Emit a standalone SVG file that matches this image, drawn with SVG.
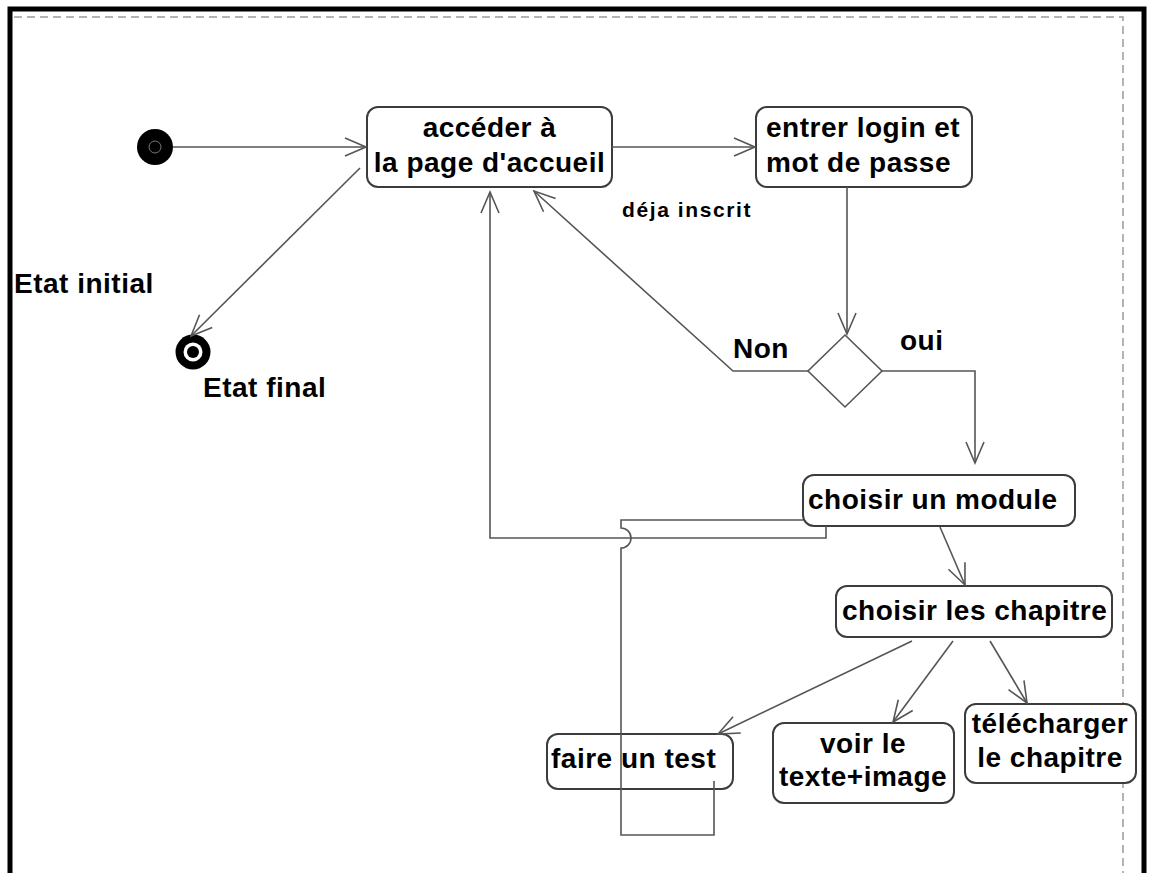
<svg xmlns="http://www.w3.org/2000/svg" width="1149" height="873" viewBox="0 0 1149 873">
  <style>
    .frame { fill: none; stroke: #000; stroke-width: 5; }
    .bound { fill: none; stroke: #9a9a9a; stroke-width: 1.5; stroke-dasharray: 8 5; }
    .state { fill: #fff; stroke: #3c3c3c; stroke-width: 2; }
    .lbl { font-family: "Liberation Sans", Arial, sans-serif; font-weight: bold; font-size: 28px; letter-spacing: 0.5px; fill: #000; }
    .small { font-size: 21px; letter-spacing: 1.6px; }
    .mid { text-anchor: middle; }
    .edge { fill: none; stroke: #555; stroke-width: 1.6; }
  </style>
  <defs>
    <marker id="open" markerUnits="userSpaceOnUse" markerWidth="24" markerHeight="20" refX="22" refY="10" orient="auto">
      <path d="M1,1 L22,10 L1,19" fill="none" stroke="#555" stroke-width="1.6"/>
    </marker>
  </defs>

  <rect width="1149" height="873" fill="#fff"/>
  <path class="frame" d="M10,873 L10,9 L1144,9 L1144,873"/>
  <path class="bound" d="M14,17 L1123,17 L1123,873"/>

  <!-- start and end pseudo-states -->
  <g id="initial">
    <circle cx="155" cy="147" r="18" fill="#000"/>
    <circle cx="155" cy="147" r="6" fill="none" stroke="#777" stroke-width="1"/>
  </g>
  <g id="final">
    <circle cx="193" cy="352" r="17.5" fill="#000"/>
    <circle cx="193" cy="352" r="9.5" fill="#fff"/>
    <circle cx="193" cy="352" r="6" fill="#000"/>
  </g>

  <!-- activity states -->
  <g id="acceder">
    <rect class="state" x="367" y="107" width="245" height="80" rx="11"/>
    <text class="lbl mid" x="489.5" y="137">accéder à</text>
    <text class="lbl mid" x="489.5" y="172">la page d'accueil</text>
  </g>
  <g id="login">
    <rect class="state" x="756" y="107" width="216" height="80" rx="11"/>
    <text class="lbl" x="766" y="137">entrer login et</text>
    <text class="lbl" x="766" y="172">mot de passe</text>
  </g>
  <g id="decision">
    <polygon points="845,335 882,371 845,407 808,371" fill="#fff" stroke="#555" stroke-width="1.6"/>
  </g>
  <g id="module">
    <rect class="state" x="803" y="475" width="272" height="51" rx="11"/>
    <text class="lbl" x="808" y="509">choisir un module</text>
  </g>
  <g id="chapitre">
    <rect class="state" x="836" y="586" width="276" height="51" rx="11"/>
    <text class="lbl" x="842" y="620">choisir les chapitre</text>
  </g>
  <g id="test">
    <rect class="state" x="547" y="734" width="186" height="55" rx="11"/>
    <text class="lbl" x="551" y="768">faire un test</text>
  </g>
  <g id="voir">
    <rect class="state" x="773" y="723" width="181" height="80" rx="11"/>
    <text class="lbl mid" x="863" y="753">voir le</text>
    <text class="lbl mid" x="863" y="786">texte+image</text>
  </g>
  <g id="telecharger">
    <rect class="state" x="965" y="704" width="171" height="79" rx="11"/>
    <text class="lbl mid" x="1050" y="733">télécharger</text>
    <text class="lbl mid" x="1050" y="767">le chapitre</text>
  </g>

  <!-- free labels -->
  <g id="labels">
    <text class="lbl" x="14" y="293">Etat initial</text>
    <text class="lbl" x="203" y="397">Etat final</text>
    <text class="lbl small" x="622" y="217">déja inscrit</text>
    <text class="lbl" x="733" y="358">Non</text>
    <text class="lbl" x="900" y="350">oui</text>
  </g>

  <!-- transitions -->
  <g id="connectors">
    <path class="edge" d="M173,147 L366,147" marker-end="url(#open)"/>
    <path class="edge" d="M612,147 L755,147" marker-end="url(#open)"/>
    <path class="edge" d="M360,168 L191,336" marker-end="url(#open)"/>
    <path class="edge" d="M847,187 L847,334" marker-end="url(#open)"/>
    <path class="edge" d="M808,371 L733,371 L534,191" marker-end="url(#open)"/>
    <path class="edge" d="M882,371 L975,371 L975,463" marker-end="url(#open)"/>
    <path class="edge" d="M826,526 L826,538 L490,538 L490,192" marker-end="url(#open)"/>
    <path class="edge" d="M714,781 L714,835 L621,835 L621,548 A10,10 0 0 0 621,528 L621,520 L803,520"/>
    <path class="edge" d="M940,527 L965,585" marker-end="url(#open)"/>
    <path class="edge" d="M912,641 L718,734" marker-end="url(#open)"/>
    <path class="edge" d="M953,641 L893,722" marker-end="url(#open)"/>
    <path class="edge" d="M990,641 L1027,703" marker-end="url(#open)"/>
  </g>
</svg>
